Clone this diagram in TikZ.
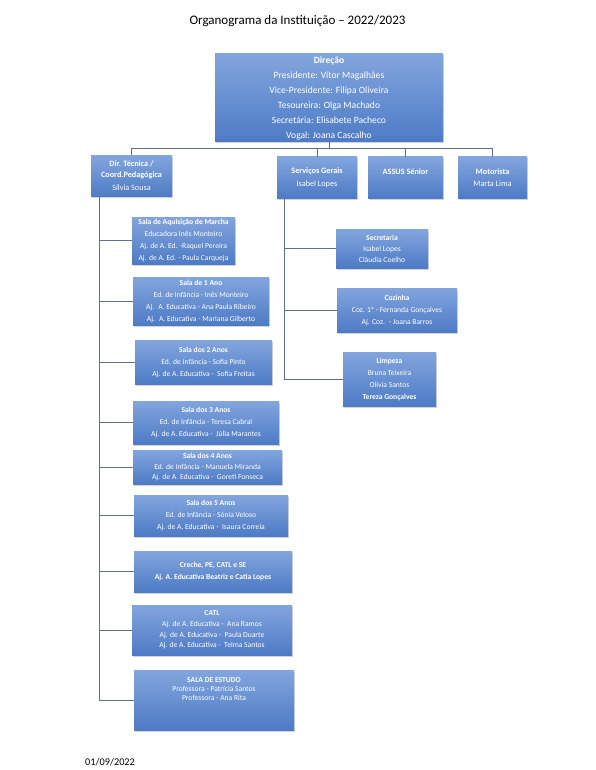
\documentclass[tikz,border=0pt]{standalone}
\usepackage{fontspec}
\setmainfont{Carlito}
\usetikzlibrary{shadows}
\definecolor{boxtop}{RGB}{130,165,221}
\definecolor{boxbot}{RGB}{78,123,198}
\definecolor{linec}{RGB}{95,112,140}
\tikzset{
  obox/.style={rectangle, top color=boxtop, bottom color=boxbot, draw=none, text=white,
    align=center, inner sep=1pt,
    drop shadow={shadow xshift=1pt, shadow yshift=-1.5pt, opacity=0.35}},
  bigtxt/.style={font=\fontsize{9.6}{15}\selectfont},
  midtxt/.style={font=\fontsize{8.2}{11}\selectfont},
  smalltxt/.style={font=\fontsize{7.6}{12}\selectfont},
  conn/.style={draw=linec, line width=0.8pt},
}
\begin{document}
\begin{tikzpicture}[x=1pt,y=-1pt]
\useasboundingbox (0,0) rectangle (595,770);

\node[font=\fontsize{13}{15}\selectfont] (title) at (297.5,21) {Organograma da Instituição – 2022/2023};

% top level
\node[obox, bigtxt, minimum width=228pt, minimum height=88pt] (dir) at (329,98)
  {\textbf{Direção}\\Presidente: Vítor Magalhães\\Vice-Presidente: Filipa Oliveira\\Tesoureira: Olga Machado\\Secretária: Elisabete Pacheco\\Vogal: Joana Cascalho};

\node[obox, midtxt, minimum width=81pt, minimum height=41pt] (dtec) at (131.5,176)
  {\textbf{Dir. Técnica /}\\\textbf{Coord.Pedagógica}\\[2pt]Sílvia Sousa};
\node[obox, midtxt, minimum width=80pt, minimum height=41pt] (sg) at (317,177.5)
  {\textbf{Serviços Gerais}\\[2pt]Isabel Lopes};
\node[obox, midtxt, minimum width=75pt, minimum height=41pt, text depth=12pt] (assus) at (405.5,177.5)
  {\textbf{ASSUS Sénior}};
\node[obox, midtxt, minimum width=69pt, minimum height=41pt] (mot) at (492.5,177.5)
  {\textbf{Motorista}\\[1pt]Marta Lima};

% left column
\node[obox, smalltxt, minimum width=103pt, minimum height=47pt] (sam) at (183.5,240.5)
  {\textbf{Sala de Aquisição de Marcha}\\Educadora Inês Monteiro\\Aj. de A. Ed. -Raquel Pereira\\Aj. de A. Ed. - Paula Carqueja};
\node[obox, smalltxt, minimum width=136pt, minimum height=48pt] (s1) at (201,301)
  {\textbf{Sala de 1 Ano}\\Ed. de Infância - Inês Monteiro\\Aj.~ A. Educativa - Ana Paula Ribeiro\\Aj.~ A. Educativa - Mariana Gilberto};
\node[obox, smalltxt, minimum width=137pt, minimum height=44pt] (s2) at (203.5,362)
  {\textbf{Sala dos 2 Anos}\\Ed. de Infância - Sofia Pinto\\Aj. de A. Educativa -~ Sofia Freitas};
\node[obox, smalltxt, minimum width=146pt, minimum height=43pt] (s3) at (206,422.5)
  {\textbf{Sala dos 3 Anos}\\Ed. de Infância - Teresa Cabral\\Aj. de A. Educativa -~ Júlia Marantes};
\node[obox, smalltxt, minimum width=149pt, minimum height=34pt, font=\fontsize{7.6}{10.5}\selectfont] (s4) at (207.5,467)
  {\textbf{Sala dos 4 Anos}\\Ed. de Infância - Manuela Miranda\\Aj. de A. Educativa -~ Goreti Fonseca};
\node[obox, smalltxt, minimum width=154pt, minimum height=41pt] (s5) at (211,515.5)
  {\textbf{Sala dos 5 Anos}\\Ed. de Infância - Sónia Veloso\\Aj. de A. Educativa -~ Isaura Correia};
\node[obox, smalltxt, minimum width=158pt, minimum height=41pt] (creche) at (213,571.5)
  {\textbf{Creche, PE, CATL e SE}\\\textbf{Aj. A. Educativa Beatriz e Catia Lopes}};
\node[obox, smalltxt, minimum width=160pt, minimum height=50pt, font=\fontsize{7.6}{10.6}\selectfont] (catl) at (212,630)
  {\textbf{CATL}\\Aj. de A. Educativa -~ Ana Ramos\\Aj. de A. Educativa -~ Paula Duarte\\Aj. de A. Educativa -~ Telma Santos};
\node[obox, smalltxt, minimum width=160pt, minimum height=60pt, font=\fontsize{7.6}{8.7}\selectfont, text depth=22pt] (est) at (214,700)
  {\textbf{SALA DE ESTUDO}\\Professora - Patrícia Santos\\Professora - Ana Rita};

% right column
\node[obox, smalltxt, minimum width=92pt, minimum height=39pt, font=\fontsize{7.6}{11}\selectfont] (sec) at (382,248.5)
  {\textbf{Secretaria}\\Isabel Lopes\\Cláudia Coelho};
\node[obox, smalltxt, minimum width=120pt, minimum height=44pt] (coz) at (397,310)
  {\textbf{Cozinha}\\Coz. 1ª - Fernanda Gonçalves\\Aj. Coz.~ - Joana Barros};
\node[obox, smalltxt, minimum width=93pt, minimum height=54pt] (lim) at (389.5,379)
  {\textbf{Limpeza}\\Bruna Teixeira\\Olivia Santos\\\textbf{Tereza Gonçalves}};

\node[anchor=west, inner sep=0pt, font=\fontsize{10.3}{12}\selectfont] (date) at (85,762) {01/09/2022};

% connectors
\coordinate (bar) at (0,148);
\coordinate (ltrunk) at (99,0);
\coordinate (rtrunk) at (284,0);
\draw[conn] (dir.south) -- (dir.south |- bar) -| (dtec.north);
\draw[conn] (dir.south |- bar) -| (sg.north);
\draw[conn] (dir.south |- bar) -| (assus.north);
\draw[conn] (dir.south |- bar) -| (mot.north);

\draw[conn] (dtec.south -| ltrunk) |- (est.west);
\foreach \n in {sam,s1,s2,s3,s4,s5,creche,catl}
  \draw[conn] (ltrunk |- \n.west) -- (\n.west);

\draw[conn] (sg.south -| rtrunk) |- (lim.west);
\foreach \n in {sec,coz}
  \draw[conn] (rtrunk |- \n.west) -- (\n.west);
\end{tikzpicture}
\end{document}
